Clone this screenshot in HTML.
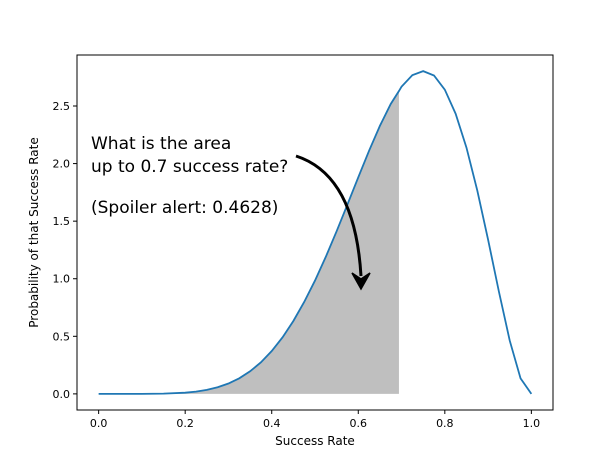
<!DOCTYPE html>
<html><head><meta charset="utf-8"><style>
body{margin:0;background:#fff}
svg text{font-family:"DejaVu Sans","Liberation Sans",sans-serif}
</style></head><body>
<svg id="chart" width="614" height="461">
<rect x="0" y="0" width="614" height="461" fill="#fff"/>
<g id="plot"></g>
</svg>
<script>
const xValues=[0,0.05,0.1,0.15,0.2,0.225,0.25,0.275,0.3,0.325,0.35,0.375,0.4,0.425,0.45,0.475,0.5,0.525,0.55,0.575,0.6,0.625,0.65,0.675,0.694,0.7,0.725,0.75,0.775,0.8,0.825,0.85,0.875,0.9,0.925,0.95,0.975,1.0];
const yValues=[0,0,0.0002,0.0021,0.0103,0.0196,0.0346,0.0573,0.090,0.1353,0.196,0.2738,0.372,0.491,0.633,0.798,0.984,1.1905,1.413,1.645,1.881,2.112,2.328,2.5176,2.63,2.668,2.768,2.803,2.765,2.642,2.433,2.139,1.767,1.339,0.888,0.463,0.135,0];
const xTicks=[0,0.2,0.4,0.6,0.8,1.0];
const xTickLabels=["0.0","0.2","0.4","0.6","0.8","1.0"];
const yTicks=[0,0.5,1,1.5,2,2.5];
const yTickLabels=["0.0","0.5","1.0","1.5","2.0","2.5"];
const shadeLimit=0.694;

const L=77,R=553,T=55,B=410;
const xmin=-0.05,xmax=1.05,ymin=-0.14,ymax=2.943;
const sx=v=>L+(v-xmin)/(xmax-xmin)*(R-L);
const sy=v=>B-(v-ymin)/(ymax-ymin)*(B-T);
const NS="http://www.w3.org/2000/svg";
const g=document.getElementById('plot');
function mk(tag,attrs){const e=document.createElementNS(NS,tag);for(const k in attrs)e.setAttribute(k,attrs[k]);g.appendChild(e);return e;}

let d=`M${sx(0)},${sy(0)}`;
xValues.forEach((x,i)=>{if(x<=shadeLimit)d+=` L${sx(x)},${sy(yValues[i])}`;});
d+=` L${sx(shadeLimit)},${sy(0)} Z`;
const area=mk('path',{d:d,fill:'#7f7f7f','fill-opacity':0.5,stroke:'none'});



const pts=xValues.map((x,i)=>`${sx(x)},${sy(yValues[i])}`).join(' ');
const line=mk('polyline',{points:pts,fill:'none',stroke:'#1f77b4','stroke-width':1.8});



const frame=mk('rect',{x:L,y:T,width:R-L,height:B-T,fill:'none',stroke:'#000','stroke-width':1});



xTicks.forEach((v,i)=>{
 mk('line',{x1:sx(v),x2:sx(v),y1:B,y2:B+4,stroke:'#000'});
 const t=mk('text',{x:sx(v),y:B+17,'font-size':11,'text-anchor':'middle'});
 t.textContent=xTickLabels[i];
 
 
});
yTicks.forEach((v,i)=>{
 mk('line',{x1:L-4,x2:L,y1:sy(v),y2:sy(v),stroke:'#000'});
 const t=mk('text',{x:L-7,y:sy(v)+4,'font-size':11,'text-anchor':'end'});
 t.textContent=yTickLabels[i];
 
 
});
const xt=mk('text',{x:(L+R)/2,y:445,'font-size':12,'text-anchor':'middle'});
xt.textContent='Success Rate';


const yt=mk('text',{x:0,y:0,'font-size':12,'text-anchor':'middle',transform:`translate(38,${(T+B)/2}) rotate(-90)`});
yt.textContent='Probability of that Success Rate';



const lines=[['What is the area',149],['up to 0.7 success rate?',172],['(Spoiler alert: 0.4628)',213]];
lines.forEach(l=>{
 const t=mk('text',{x:91,y:l[1],'font-size':17});
 t.textContent=l[0];
 
 
});
const arr=mk('path',{d:'M296,156 Q355,175 361,276',fill:'none',stroke:'#000','stroke-width':3});


const head=mk('path',{d:'M352,273 L361,289 L370,273 L361,279 Z',fill:'#000',stroke:'#000','stroke-width':1.5,'stroke-linejoin':'miter'});


</script>
</body></html>
